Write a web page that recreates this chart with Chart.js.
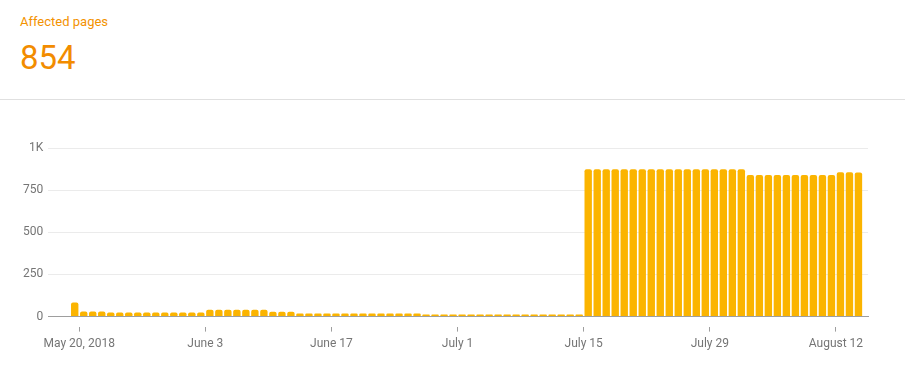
<!DOCTYPE html>
<html><head><meta charset="utf-8">
<script src="https://cdn.jsdelivr.net/npm/chart.js@4"></script>
<style>
html,body{margin:0;padding:0;background:#fff;width:905px;height:376px;overflow:hidden;font-family:Roboto,sans-serif}
#title{position:absolute;left:20px;top:14px;font-size:13px;line-height:normal;color:#f39200;white-space:nowrap}
#big{position:absolute;left:20px;top:38px;font-size:33px;line-height:normal;color:#f28c00;white-space:nowrap}
#rule{position:absolute;left:0;top:99px;width:905px;height:1px;background:#e0e0e0}
#wrap{position:absolute;left:0;top:110px;width:905px;height:266px}
</style></head><body>
<div id="title">Affected pages</div>
<div id="big">854</div>
<div id="rule"></div>
<div id="wrap"><canvas id="c" width="905" height="266"></canvas></div>
<script>
// Days from May 19, 2018 to Aug 14, 2018 (88 days)
const startDate = new Date(Date.UTC(2018, 4, 19));
const categories = [];
for (let i = 0; i < 88; i++) {
  const d = new Date(startDate.getTime() + i * 86400000);
  categories.push(d.toISOString().slice(0, 10));
}
const affectedPages = [
  83,
  30, 30, 30,
  24, 24, 24, 24, 24, 24, 24, 24, 24, 24, 24,
  40, 40, 40, 40, 40, 40, 40,
  29, 29, 29,
  18, 18, 18, 18, 18, 18, 18, 18, 18, 18, 18, 18, 18, 18,
  12, 12, 12, 12, 12, 12, 12, 12, 12, 12, 12, 12, 12, 12, 12, 12, 12, 12,
  874, 874, 874, 874, 874, 874, 874, 874, 874, 874, 874, 874, 874, 874, 874, 874, 874, 874,
  840, 840, 840, 840, 840, 840, 840, 840, 840, 840,
  856, 856, 854
];
const tickDates = ['2018-05-20', '2018-06-03', '2018-06-17', '2018-07-01', '2018-07-15', '2018-07-29', '2018-08-12'];
const tickLabels = ['May 20, 2018', 'June 3', 'June 17', 'July 1', 'July 15', 'July 29', 'August 12'];
const yTicks = [0, 250, 500, 750, 1000];
const yTickLabels = ['0', '250', '500', '750', '1K'];

const tickPositions = tickDates.map(d => categories.indexOf(d) - 0.5);
const points = affectedPages.map((v, i) => ({ x: i, y: v }));

new Chart(document.getElementById('c'), {
  type: 'bar',
  data: {
    datasets: [{
      data: points,
      backgroundColor: '#fbb400',
      borderRadius: 2,
      borderSkipped: 'start',
      barPercentage: 0.82,
      categoryPercentage: 1.0
    }]
  },
  options: {
    responsive: false,
    animation: false,
    devicePixelRatio: 1,
    layout: { padding: { top: 38, left: 18, right: 37, bottom: 20 } },
    plugins: { legend: { display: false }, tooltip: { enabled: false } },
    scales: {
      x: {
        type: 'linear',
        offset: false,
        min: -2.94,
        max: 88.06,
        afterBuildTicks: s => { s.ticks = tickPositions.map(v => ({ value: v })); },
        ticks: {
          autoSkip: false,
          maxRotation: 0,
          color: '#757575',
          padding: 5,
          font: { family: 'Roboto', size: 12 },
          callback: (v, i) => tickLabels[i]
        },
        grid: {
          offset: false,
          drawOnChartArea: false,
          drawTicks: true,
          tickLength: 15,
          tickColor: '#9e9e9e',
          tickWidth: 1,
          tickBorderDash: [0, 10, 5, 30]
        },
        border: { display: true, color: '#9e9e9e', width: 1 }
      },
      y: {
        min: 0,
        max: 1000,
        afterBuildTicks: s => { s.ticks = yTicks.map(v => ({ value: v })); },
        ticks: {
          color: '#757575',
          padding: 5,
          font: { family: 'Roboto', size: 12 },
          callback: (v, i) => yTickLabels[i]
        },
        grid: { color: '#ebebeb', drawTicks: false },
        border: { display: false }
      }
    }
  }
});
</script>
</body></html>
